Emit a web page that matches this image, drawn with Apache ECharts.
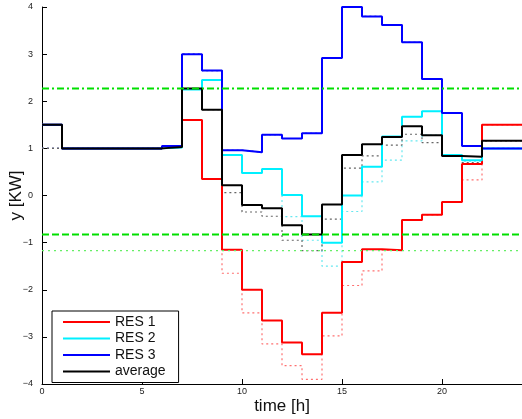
<!DOCTYPE html>
<html>
<head>
<meta charset="utf-8">
<script src="https://cdn.jsdelivr.net/npm/echarts@6/dist/echarts.min.js"></script>
<style>
html, body { margin: 0; padding: 0; background: #fff; }
#main { width: 522px; height: 419px; }
</style>
</head>
<body>
<div id="main"></div>
<script>
// hours 0..24, each value holds for [h, h+1]
var hours = [0, 1, 2, 3, 4, 5, 6, 7, 8, 9, 10, 11, 12, 13, 14, 15, 16, 17, 18, 19, 20, 21, 22, 23, 24];

// solid curves
var res1 = [1.5, 1, 1, 1, 1, 1, 1.03, 1.6, 0.35, -1.15, -2.0, -2.65, -3.12, -3.37, -2.49, -1.41, -1.14, -1.16, -0.52, -0.41, -0.14, 0.67, 1.5, 1.5];
var res2 = [1.5, 1, 1, 1, 1, 1, 1.02, 2.25, 2.45, 0.86, 0.48, 0.56, 0.01, -0.44, -1.0, 0.0, 0.61, 1.25, 1.67, 1.79, 0.86, 0.75, 1.0, 1.0];
var res3 = [1.5, 1, 1, 1, 1, 1, 1.05, 3.0, 2.65, 0.96, 0.92, 1.29, 1.21, 1.32, 2.92, 4.0, 3.8, 3.62, 3.25, 2.47, 1.75, 1.05, 1.0, 1.0];
var average = [1.5, 1, 1, 1, 1, 1, 1.03, 2.27, 1.82, 0.22, -0.2, -0.27, -0.63, -0.83, -0.19, 0.86, 1.09, 1.24, 1.47, 1.28, 0.84, 0.82, 1.16, 1.16];

// dotted curves
var res1Dot = [1, 1, 1, 1, 1, 1, 1.03, 1.6, 0.35, -1.65, -2.49, -3.15, -3.61, -3.9, -2.98, -1.91, -1.6, -1.16, -0.52, -0.41, -0.14, 0.33, 1.5, 1.5];
var res2Dot = [1, 1, 1, 1, 1, 1, 1.02, 2.25, 2.45, 0.86, 0.48, 0.56, -0.45, -0.95, -1.5, -0.34, 0.29, 0.75, 1.16, 1.28, 0.86, 0.73, 1.0, 1.0];
var res3Dot = [1, 1, 1, 1, 1, 1, 1.05, 3.0, 2.65, 0.96, 0.92, 1.29, 1.21, 1.32, 2.92, 4.0, 3.8, 3.62, 3.25, 2.47, 1.75, 1.05, 1.0, 1.0];
var averageDot = [1, 1, 1, 1, 1, 1, 1.03, 2.27, 1.82, 0.06, -0.35, -0.44, -0.95, -1.17, -0.5, 0.58, 0.84, 1.07, 1.3, 1.12, 0.84, 0.7, 1.16, 1.16];

// horizontal limits
var upperLimit = 2.27;
var lowerLimit = -0.83;
var lowerDotLimit = -1.17;

var legendNames = ['RES 1', 'RES 2', 'RES 3', 'average'];

function stairs(vals) {
    return hours.map(function (h, i) {
        return [h, vals[Math.min(i, vals.length - 1)]];
    });
}

function flat(v) {
    return [[hours[0], v], [hours[hours.length - 1], v]];
}

function stepSeries(name, vals, color, width, type, z) {
    return {
        name: name,
        type: 'line',
        step: 'end',
        symbol: 'none',
        data: stairs(vals),
        z: z,
        lineStyle: {color: color, width: width, type: type},
        itemStyle: {color: color}
    };
}

function limitSeries(v, color, width, type) {
    return {
        type: 'line',
        symbol: 'none',
        data: flat(v),
        z: 5,
        lineStyle: {color: color, width: width, type: type}
    };
}

var myChart = echarts.init(document.getElementById('main'));

var font = 'Liberation Sans, Arial, sans-serif';

var option = {
    animation: false,
    backgroundColor: '#fff',
    textStyle: {fontFamily: font},
    grid: {left: 42, right: 0, top: 7, bottom: 35, containLabel: false, outerBoundsMode: 'none'},
    legend: {
        data: legendNames,
        orient: 'vertical',
        left: 52,
        top: 311,
        padding: [4, 13, 4, 10],
        itemWidth: 47,
        itemHeight: 14,
        itemGap: 2.5,
        itemStyle: {opacity: 0},
        borderColor: '#000',
        borderWidth: 1,
        backgroundColor: '#fff',
        textStyle: {fontSize: 14, color: '#111', fontFamily: font}
    },
    xAxis: {
        type: 'value',
        min: 0,
        max: 24,
        interval: 5,
        name: 'time [h]',
        nameLocation: 'middle',
        nameGap: 14,
        nameMoveOverlap: false,
        nameTextStyle: {fontSize: 17, color: '#111', fontFamily: font},
        axisLine: {onZero: false, lineStyle: {color: '#000', width: 1}},
        axisTick: {inside: true, length: 5, lineStyle: {color: '#000'}},
        axisLabel: {fontSize: 9, color: '#222', margin: 3, showMaxLabel: false},
        splitLine: {show: false}
    },
    yAxis: {
        type: 'value',
        min: -4,
        max: 4,
        interval: 1,
        name: 'y [KW]',
        nameLocation: 'middle',
        nameGap: 17,
        nameMoveOverlap: false,
        nameTextStyle: {fontSize: 17, color: '#111', fontFamily: font},
        axisLine: {onZero: false, lineStyle: {color: '#000', width: 1}},
        axisTick: {inside: true, length: 5, lineStyle: {color: '#000'}},
        axisLabel: {
            fontSize: 9, color: '#222', margin: 9,
            formatter: function (v) { return String(v).replace('-', '\u2212'); }
        },
        splitLine: {show: false}
    },
    series: [
        stepSeries('RES 1 dotted', res1Dot, '#ff7070', 1.2, [2, 3], 1),
        stepSeries('RES 2 dotted', res2Dot, '#66e8f0', 1.2, [2, 3], 1),
        stepSeries('RES 3 dotted', res3Dot, '#3030b0', 1.2, [2, 3], 1),
        stepSeries('average dotted', averageDot, '#666666', 1.2, [2, 3], 1),
        stepSeries('RES 1', res1, '#ff0000', 2, 'solid', 2),
        stepSeries('RES 2', res2, '#00f0ff', 2, 'solid', 2),
        stepSeries('RES 3', res3, '#0000ff', 2, 'solid', 2),
        stepSeries('average', average, '#000000', 2, 'solid', 3),
        limitSeries(upperLimit, '#00e000', 2, [7, 3, 2, 3]),
        limitSeries(lowerLimit, '#00e000', 2, [7, 3]),
        limitSeries(lowerDotLimit, '#66ee66', 1.2, [2, 4])
    ]
};

myChart.setOption(option);
</script>
</body>
</html>
